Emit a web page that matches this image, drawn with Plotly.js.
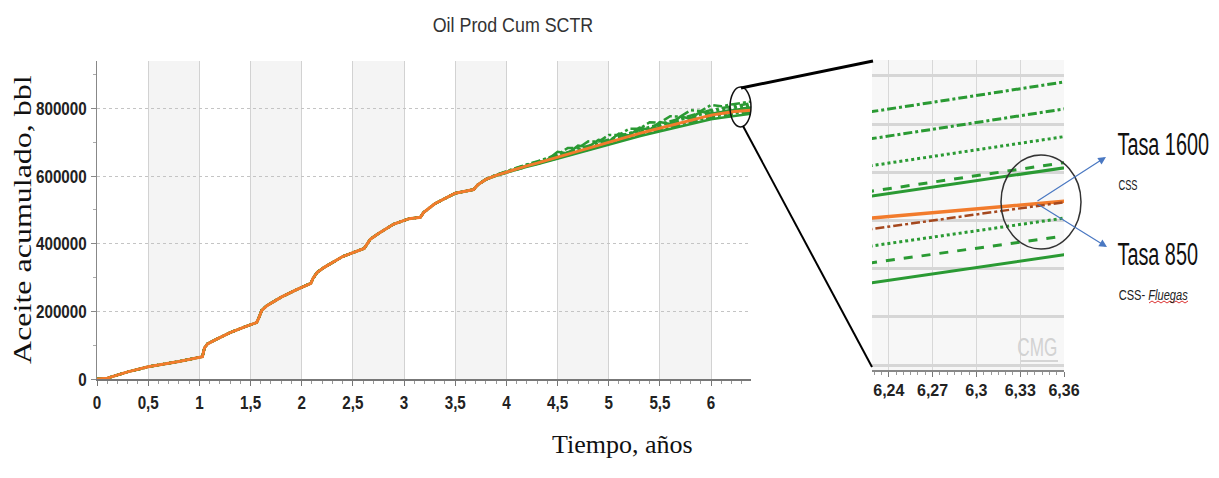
<!DOCTYPE html>
<html>
<head>
<meta charset="utf-8">
<script src="https://cdn.plot.ly/plotly-3.0.1.min.js"></script>
<style>
  html, body { margin: 0; padding: 0; background: #fff; }
  #chart { width: 1219px; height: 478px; }
</style>
</head>
<body>
<div id="chart"></div>
<script>
// Cumulative oil production (bbl) vs time (years), CSS runs.
// History common to every run, up to the divergence point.
const sharedTime = [0, 0.05, 0.1, 0.3, 0.5, 0.8, 1.03, 1.05, 1.08, 1.15, 1.3, 1.45, 1.56, 1.58, 1.61, 1.66, 1.8, 1.95, 2.09, 2.11, 2.15, 2.22, 2.4, 2.61, 2.63, 2.67, 2.75, 2.9, 3.05, 3.16, 3.19, 3.3, 3.5, 3.68, 3.72];
const sharedOil = [0, 1000, 2500, 21000, 36000, 52000, 66000, 92000, 104000, 115000, 137000, 155000, 167000, 180000, 203000, 217000, 242000, 264000, 283000, 297000, 315000, 330000, 362000, 386000, 396000, 413000, 430000, 458000, 474000, 478000, 492000, 518000, 549000, 560000, 574000];

// Late period, one array per run.
const lateTime = [3.8, 3.9, 4.0, 4.1, 4.2, 4.3, 4.4, 4.5, 4.6, 4.7, 4.8, 4.9, 5.0, 5.1, 5.2, 5.3, 5.4, 5.5, 5.6, 5.7, 5.8, 5.9, 6.0, 6.1, 6.2, 6.2285, 6.36, 6.4];
const oilBase  = [590000, 602000, 612000, 621000, 630000, 638000, 647000, 656000, 665000, 674000, 683000, 691000, 700000, 709000, 717000, 726000, 734000, 742000, 750000, 758000, 766000, 773000, 780000, 785000, 789600, 790500, 794000, 795000];
const oil1600A = [590900, 603800, 614700, 624500, 634400, 643300, 653200, 663100, 683000, 682800, 702500, 701400, 721300, 721200, 740000, 739900, 758800, 757700, 776600, 775500, 794300, 792200, 810100, 806000, 811500, 812600, 818800, 820600];
const oil1600B = [590700, 603300, 614000, 623600, 633300, 642000, 651600, 661300, 670900, 680600, 690100, 698800, 708400, 718100, 726700, 736400, 745100, 753700, 762400, 771000, 779700, 787400, 795000, 800700, 805900, 807000, 813200, 815000];
const oil1600C = [590400, 602900, 613300, 622700, 632200, 640600, 650100, 659500, 668900, 678400, 687700, 696100, 705600, 715000, 723400, 732900, 741300, 749700, 758200, 766600, 775000, 782500, 789900, 795400, 800400, 801400, 807400, 809000];
const oil1600D = [590200, 602400, 612700, 621900, 631100, 639300, 648600, 657800, 667000, 676200, 685400, 693600, 702900, 712100, 720300, 729500, 737800, 746000, 754200, 762400, 770600, 777900, 785100, 790300, 795100, 796100, 802100, 803800];
const oil1600E = [590200, 602400, 612600, 621700, 630900, 639100, 648300, 671500, 666700, 689800, 685000, 707200, 702300, 725500, 719700, 742900, 737100, 759300, 753500, 775600, 769800, 791000, 784200, 789400, 794200, 795100, 801000, 802700];
const oil850A  = [589900, 601800, 611700, 620600, 629500, 637500, 646400, 655300, 664200, 673100, 682000, 689900, 698900, 707800, 715700, 724600, 732500, 740400, 748300, 756200, 764100, 771000, 778000, 782900, 787400, 788250, 793800, 795200];
const oil850B  = [589800, 601500, 611300, 620100, 628800, 636600, 645400, 654200, 662900, 671700, 680500, 688300, 697100, 705800, 713600, 722400, 730100, 737900, 745700, 753400, 761200, 768000, 774800, 779500, 783900, 784740, 790500, 792000];
const oil850C  = [589600, 601300, 610900, 619500, 628100, 635800, 644400, 653000, 661700, 670300, 679000, 686600, 695300, 703900, 711500, 720200, 727800, 735400, 743100, 750700, 758300, 764900, 771600, 776200, 780400, 781240, 786800, 788300];
const oil850D  = [589500, 600900, 610400, 618900, 627300, 634800, 643300, 651700, 660200, 668600, 677200, 684700, 693200, 701600, 709100, 717600, 725000, 732500, 740000, 747400, 754900, 761400, 767800, 772300, 776300, 777110, 782900, 784300];

// Axis ticks
const mainXTicks = [0, 0.5, 1, 1.5, 2, 2.5, 3, 3.5, 4, 4.5, 5, 5.5, 6];
const mainXLabels = ['0', '0,5', '1', '1,5', '2', '2,5', '3', '3,5', '4', '4,5', '5', '5,5', '6'];
const mainYTicks = [0, 200000, 400000, 600000, 800000];
const mainYLabels = ['0', '200000', '400000', '600000', '800000'];
const zoomXTicks = [6.24, 6.27, 6.3, 6.33, 6.36];
const zoomXLabels = ['6,24', '6,27', '6,3', '6,33', '6,36'];

const GREEN = '#2a9a33';
const ORANGE = '#f27b2c';
const BROWN = '#a5481e';
const DASHDOT = '9px,3px,3px,3px';

const time = sharedTime.concat(lateTime);

// main panel: brown run below the orange one; zoom panel: brown on top
const mainRuns = [
  { y: oil1600A, color: GREEN, dash: DASHDOT, w: 2.5 },
  { y: oil1600B, color: GREEN, dash: DASHDOT, w: 2.5 },
  { y: oil1600C, color: GREEN, dash: 'dot', w: 2.5 },
  { y: oil1600D, color: GREEN, dash: 'dash', w: 2.5 },
  { y: oil1600E, color: GREEN, dash: 'solid', w: 2.5 },
  { y: oil850B,  color: GREEN, dash: 'dot', w: 2.5 },
  { y: oil850C,  color: GREEN, dash: 'dash', w: 2.5 },
  { y: oil850D,  color: GREEN, dash: 'solid', w: 2.5 },
  { y: oil850A,  color: BROWN, dash: DASHDOT, w: 1.5 },
  { y: oilBase,  color: ORANGE, dash: 'solid', w: 3 }
];
const zoomRuns = [
  { y: oil1600A, color: GREEN, dash: DASHDOT, w: 3 },
  { y: oil1600B, color: GREEN, dash: DASHDOT, w: 3 },
  { y: oil1600C, color: GREEN, dash: 'dot', w: 3 },
  { y: oil1600D, color: GREEN, dash: 'dash', w: 3 },
  { y: oil1600E, color: GREEN, dash: 'solid', w: 3 },
  { y: oil850B,  color: GREEN, dash: 'dot', w: 3 },
  { y: oil850C,  color: GREEN, dash: 'dash', w: 3 },
  { y: oil850D,  color: GREEN, dash: 'solid', w: 3 },
  { y: oilBase,  color: ORANGE, dash: 'solid', w: 3.5 },
  { y: oil850A,  color: BROWN, dash: DASHDOT, w: 2.5 }
];

const traces = [];
mainRuns.forEach(r => traces.push({ x: time, y: sharedOil.concat(r.y), type: 'scatter', mode: 'lines',
  xaxis: 'x', yaxis: 'y', line: { color: r.color, width: r.w, dash: r.dash }, hoverinfo: 'skip' }));
zoomRuns.forEach(r => traces.push({ x: time, y: sharedOil.concat(r.y), type: 'scatter', mode: 'lines',
  xaxis: 'x2', yaxis: 'y2', line: { color: r.color, width: r.w, dash: r.dash }, hoverinfo: 'skip' }));

const W = 1219, H = 478;
const px = v => v / W;
const py = v => 1 - v / H;

const SANS = 'Liberation Sans, Arial, sans-serif';
const SERIF = 'Liberation Serif, Times New Roman, serif';
const TICKFONT = { family: SANS, size: 19, color: '#222', weight: 'bold' };

const shapes = [];
// alternating shaded bands on the main plot
for (let k = 0.5; k < 6.4; k += 1) {
  shapes.push({ type: 'rect', xref: 'x', yref: 'y domain', x0: k, x1: k + 0.5, y0: 0, y1: 1,
    fillcolor: '#f4f4f4', line: { width: 0 }, layer: 'below' });
}
// zoom panel background
shapes.push({ type: 'rect', xref: 'x2 domain', yref: 'y2 domain', x0: 0, x1: 1, y0: 0, y1: 1,
  fillcolor: '#f7f7f7', line: { width: 0 }, layer: 'below' });
// magnifier ellipse on the main plot and connector lines
shapes.push({ type: 'circle', xref: 'paper', yref: 'paper', x0: px(730), x1: px(751), y0: py(127), y1: py(87),
  line: { color: '#111', width: 1.5 } });
shapes.push({ type: 'line', xref: 'paper', yref: 'paper', x0: px(741), y0: py(88), x1: px(873), y1: py(61),
  line: { color: '#000', width: 3 } });
shapes.push({ type: 'line', xref: 'paper', yref: 'paper', x0: px(743), y0: py(126), x1: px(872), y1: py(367),
  line: { color: '#000', width: 2 } });
// circle inside the zoom panel
shapes.push({ type: 'circle', xref: 'paper', yref: 'paper', x0: px(1001), x1: px(1081), y0: py(249), y1: py(155),
  line: { color: '#333', width: 1.5 } });
// wavy underline under the italic word
let wave = 'M ' + px(1149) + ',' + py(303);
for (let i = 1; i <= 13; i++) {
  wave += ' L ' + px(1149 + i * 3) + ',' + py(i % 2 ? 301 : 303);
}
shapes.push({ type: 'path', xref: 'paper', yref: 'paper', path: wave, line: { color: '#d33', width: 1 } });
// watermark underline
shapes.push({ type: 'line', xref: 'paper', yref: 'paper', x0: px(1021), x1: px(1058), y0: py(361), y1: py(361),
  line: { color: '#d5d5d5', width: 2 } });

const annotations = [
  { text: 'Aceite acumulado, bbl', xref: 'paper', yref: 'paper', x: px(22), y: py(220), textangle: -90,
    xanchor: 'center', yanchor: 'middle',
    showarrow: false, font: { family: SERIF, size: 32, color: '#111' } },
  { text: 'Tiempo, años', xref: 'paper', yref: 'paper', x: px(622), y: py(461),
    showarrow: false, font: { family: SERIF, size: 26, color: '#111' } },
  { text: 'Tasa 1600', xref: 'paper', yref: 'paper', x: px(1116), y: py(144), xanchor: 'left', yanchor: 'middle',
    showarrow: false, font: { family: SANS, size: 31, color: '#111' } },
  { text: 'CSS', xref: 'paper', yref: 'paper', x: px(1117), y: py(184), xanchor: 'left', yanchor: 'middle',
    showarrow: false, font: { family: SANS, size: 15, color: '#222' } },
  { text: 'Tasa 850', xref: 'paper', yref: 'paper', x: px(1116), y: py(254), xanchor: 'left', yanchor: 'middle',
    showarrow: false, font: { family: SANS, size: 31, color: '#111' } },
  { text: 'CSS- <i>Fluegas</i>', xref: 'paper', yref: 'paper', x: px(1117), y: py(294), xanchor: 'left', yanchor: 'middle',
    showarrow: false, font: { family: SANS, size: 15, color: '#222' } },
  { text: 'CMG', xref: 'paper', yref: 'paper', x: px(1059), y: py(347), xanchor: 'right', yanchor: 'middle',
    showarrow: false, font: { family: SANS, size: 26, color: '#d2d2d2' } },
  // blue pointers
  { text: '', xref: 'paper', yref: 'paper', x: px(1106), y: py(157), axref: 'pixel', ayref: 'pixel', ax: -70, ay: 45,
    showarrow: true, arrowhead: 2, arrowsize: 1.3, arrowwidth: 1.2, arrowcolor: '#4a78c2' },
  { text: '', xref: 'paper', yref: 'paper', x: px(1107), y: py(247), axref: 'pixel', ayref: 'pixel', ax: -71, ay: -44,
    showarrow: true, arrowhead: 2, arrowsize: 1.3, arrowwidth: 1.2, arrowcolor: '#4a78c2' }
];
// horizontal condensing of some texts: [annotation index, factor, anchor]
const condensed = [[0, 0.78, 'center'], [2, 0.64, 'left'], [3, 0.62, 'left'], [4, 0.64, 'left'],
                   [5, 0.74, 'left'], [6, 0.66, 'right']];

const layout = {
  width: W, height: H,
  margin: { l: 0, r: 0, t: 0, b: 0 },
  paper_bgcolor: '#fff', plot_bgcolor: '#fff',
  showlegend: false,
  title: { text: 'Oil Prod Cum SCTR', x: px(513), y: py(25), xanchor: 'center', yanchor: 'middle',
    font: { family: SANS, size: 21, color: '#333' } },
  xaxis: {
    domain: [px(97), px(751)], range: [0, 6.39], anchor: 'y',
    tickmode: 'array', tickvals: mainXTicks, ticktext: mainXLabels,
    showgrid: true, gridcolor: '#d2d2d2', gridwidth: 1,
    showline: true, linecolor: '#777', linewidth: 2,
    ticks: 'outside', ticklen: 5, tickcolor: '#777', tickfont: TICKFONT,
    minor: { dtick: 0.1, ticklen: 3, tickcolor: '#999', ticks: 'outside', showgrid: false },
    zeroline: false, fixedrange: true
  },
  yaxis: {
    domain: [py(379), py(61)], range: [0, 940000], anchor: 'x',
    tickmode: 'array', tickvals: mainYTicks, ticktext: mainYLabels,
    showgrid: true, gridcolor: '#c4c4c4', gridwidth: 1, griddash: 'dot',
    showline: true, linecolor: '#888', linewidth: 1.5,
    ticks: 'outside', ticklen: 5, tickcolor: '#888', tickfont: TICKFONT,
    minor: { dtick: 100000, ticklen: 3, tickcolor: '#aaa', ticks: 'outside', showgrid: false },
    zeroline: false, fixedrange: true
  },
  xaxis2: {
    domain: [px(872), px(1064)], range: [6.2285, 6.36], anchor: 'y2',
    tickmode: 'array', tickvals: zoomXTicks, ticktext: zoomXLabels,
    showgrid: true, gridcolor: '#d8d8d8', gridwidth: 1,
    showline: true, linecolor: '#888', linewidth: 2,
    ticks: 'outside', ticklen: 5, tickcolor: '#777',
    tickfont: { family: SANS, size: 16, color: '#222', weight: 'bold' },
    minor: { dtick: 0.005, ticklen: 3, tickcolor: '#999', ticks: 'outside', showgrid: false },
    zeroline: false, fixedrange: true
  },
  yaxis2: {
    domain: [py(370), py(60)], range: [759000, 823300], anchor: 'x2',
    dtick: 10000, showticklabels: false,
    showgrid: true, gridcolor: '#d6d6d6', gridwidth: 3,
    showline: false, zeroline: false, fixedrange: true
  },
  shapes: shapes,
  annotations: annotations
};

// squeeze an svg element horizontally around one of its edges (or centre)
function squeeze(el, sx, mode) {
  if (!el) return;
  const r = el.getBoundingClientRect();
  const host = document.getElementById('chart').getBoundingClientRect();
  let X = mode === 'left' ? r.left : mode === 'right' ? r.right : (r.left + r.right) / 2;
  X -= host.left;
  const m = el.parentNode.getCTM();
  const xp = (X - m.e) / m.a;
  const old = el.getAttribute('transform') || '';
  el.setAttribute('transform', `translate(${xp},0) scale(${sx},1) translate(${-xp},0) ${old}`);
}

Plotly.newPlot('chart', traces, layout, { displayModeBar: false, staticPlot: true }).then(gd => {
  gd.querySelectorAll('.xtick text').forEach(t => squeeze(t, 0.8, 'center'));
  gd.querySelectorAll('.ytick text').forEach(t => squeeze(t, 0.8, 'right'));
  squeeze(gd.querySelector('.gtitle'), 0.85, 'center');
  condensed.forEach(([i, f, a]) => squeeze(gd.querySelector(`.annotation[data-index="${i}"]`), f, a));
});
</script>
</body>
</html>
